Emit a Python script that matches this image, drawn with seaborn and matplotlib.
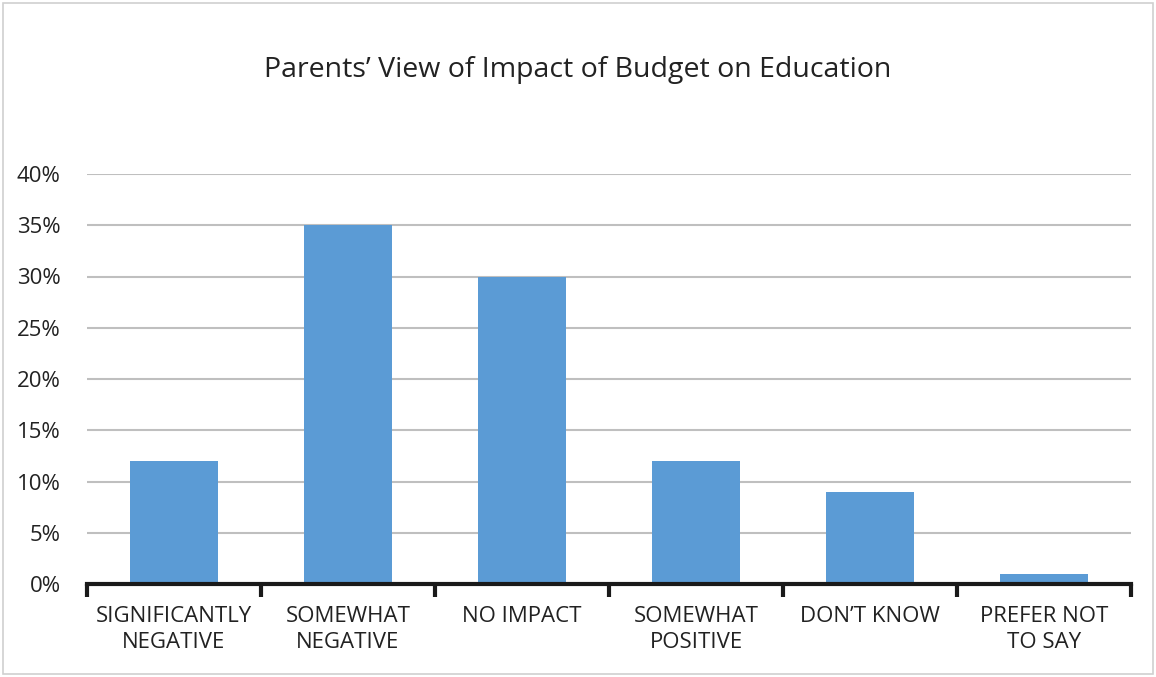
import matplotlib
matplotlib.use("Agg")
import matplotlib.pyplot as plt
from matplotlib.patches import Rectangle
from matplotlib.ticker import FixedLocator, PercentFormatter
from matplotlib import font_manager
import seaborn as sns
import pandas as pd

categories = ["SIGNIFICANTLY\nNEGATIVE", "SOMEWHAT\nNEGATIVE", "NO IMPACT",
              "SOMEWHAT\nPOSITIVE", "DON\u2019T KNOW", "PREFER NOT\nTO SAY"]
shares = [0.12, 0.35, 0.30, 0.12, 0.09, 0.01]
y_ticks = [0.0, 0.05, 0.10, 0.15, 0.20, 0.25, 0.30, 0.35, 0.40]

sns.set_theme(style="white")
available = {f.name for f in font_manager.fontManager.ttflist}
family = [f for f in ["Liberation Sans Narrow", "Open Sans", "DejaVu Sans"] if f in available]
plt.rcParams["font.family"] = family

df = pd.DataFrame({"category": categories, "share": shares})

fig = plt.figure(figsize=(11.56, 6.77), dpi=100)
ax = fig.add_axes([87 / 1156, 1 - 584 / 677, (1131 - 87) / 1156, (584 - 174) / 677])

sns.barplot(data=df, x="category", y="share", color="#5B9BD5", width=0.51,
            saturation=1, linewidth=0, ax=ax, zorder=3)

ax.set_ylim(0, 0.40)
ax.set_xlim(-0.5, len(categories) - 0.5)
ax.yaxis.set_major_locator(FixedLocator(y_ticks))
ax.yaxis.set_major_formatter(PercentFormatter(1.0, decimals=0))
ax.grid(axis="y", color="#BFBFBF", linewidth=1.5, zorder=0)
ax.set_axisbelow(True)

for side in ["top", "right", "left"]:
    ax.spines[side].set_visible(False)
ax.spines["bottom"].set_color("#1a1a1a")
ax.spines["bottom"].set_linewidth(3)
ax.spines["bottom"].set_zorder(4)

ax.set_xlabel("")
ax.set_ylabel("")
ax.tick_params(axis="y", length=0, pad=19, labelsize=16, labelcolor="#222222")
ax.tick_params(axis="x", which="major", length=0, pad=16, labelsize=16, labelcolor="#222222")
ax.set_xticks([i - 0.5 for i in range(len(categories) + 1)], minor=True)
ax.tick_params(axis="x", which="minor", bottom=True, length=9, width=3,
               color="#1a1a1a", direction="out")
for lbl in ax.get_xticklabels():
    lbl.set_linespacing(1.3)

fig.text(0.5, 1 - 70 / 677, "Parents\u2019 View of Impact of Budget on Education",
         ha="center", va="center", fontsize=20.5, color="#222222")

fig.patches.append(Rectangle((3 / 1156, 3 / 677), 1150 / 1156, 671 / 677,
                             transform=fig.transFigure, fill=False,
                             edgecolor="#D0D0D0", linewidth=1.2))

fig.savefig("out.png", dpi=100)
